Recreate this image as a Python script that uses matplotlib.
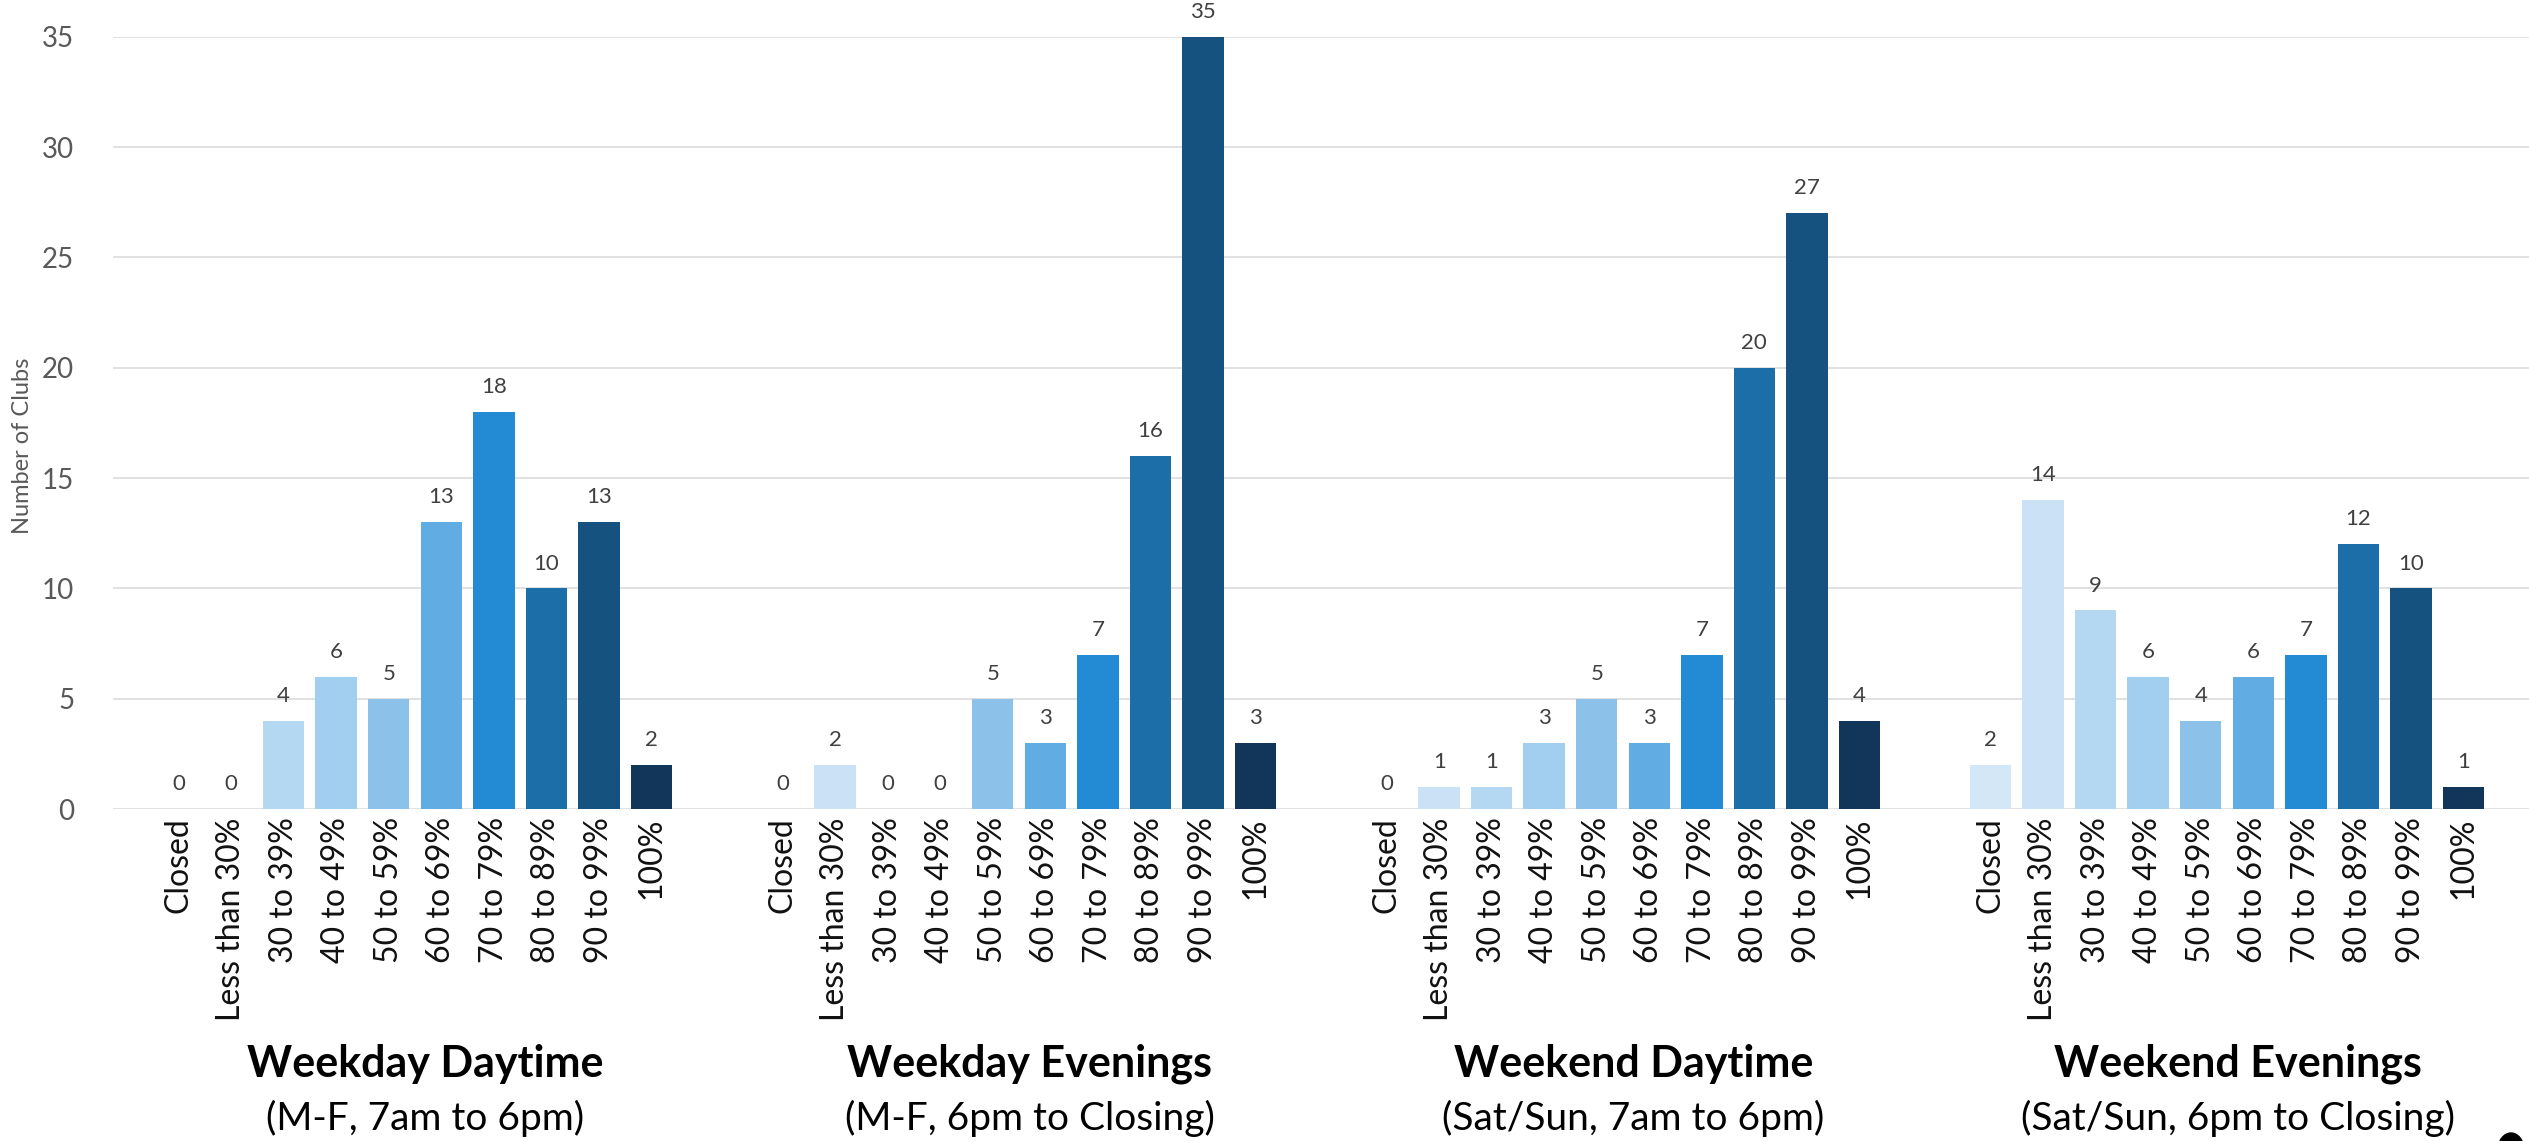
import matplotlib.pyplot as plt
from matplotlib.patches import Ellipse
from matplotlib.transforms import blended_transform_factory

plt.rcParams['font.family'] = ['Lato', 'DejaVu Sans']

# occupancy bands (same for every time slot)
categories = ["Closed", "Less than 30%", "30 to 39%", "40 to 49%", "50 to 59%",
              "60 to 69%", "70 to 79%", "80 to 89%", "90 to 99%", "100%"]

weekday_day = [0, 0, 4, 6, 5, 13, 18, 10, 13, 2]
weekday_eve = [0, 2, 0, 0, 5, 3, 7, 16, 35, 3]
weekend_day = [0, 1, 1, 3, 5, 3, 7, 20, 27, 4]
weekend_eve = [2, 14, 9, 6, 4, 6, 7, 12, 10, 1]

group_titles = ["Weekday Daytime", "Weekday Evenings", "Weekend Daytime", "Weekend Evenings"]
group_subtitles = ["(M-F, 7am to 6pm)", "(M-F, 6pm to Closing)",
                   "(Sat/Sun, 7am to 6pm)", "(Sat/Sun, 6pm to Closing)"]

bar_colors = ["#d3e7f6", "#cbe1f5", "#b4d8f2", "#a2cff0", "#8cc2ea",
              "#61ace3", "#238bd3", "#1c6ea8", "#16527f", "#12365a"]

W, H = 2529, 1141
fig = plt.figure(figsize=(W / 100, H / 100), dpi=100)
ax = fig.add_axes([113 / W, 1 - 809 / H, 1 - 113 / W, (809 - 36.7) / H])

series = [weekday_day, weekday_eve, weekend_day, weekend_eve]
group_step = 11.5
xs_all, labels_all = [], []
for g, vals in enumerate(series):
    xs = [g * group_step + i for i in range(len(categories))]
    ax.bar(xs, vals, width=0.79, color=bar_colors, zorder=2)
    for x, v in zip(xs, vals):
        ax.annotate(str(v), (x, v), xytext=(0, 13.5), textcoords="offset points",
                    ha="center", va="baseline", fontsize=16, color="#404040")
    xs_all += xs
    labels_all += categories

ax.set_xlim(-1.25, 3 * group_step + 9 + 1.25)
ax.set_ylim(0, 35)
ax.set_yticks(range(0, 36, 5))
ax.set_xticks(xs_all)
ax.set_xticklabels(labels_all, rotation=90, fontsize=23, color="#111111")
ax.tick_params(axis="x", length=0, pad=6)
ax.tick_params(axis="y", length=0, pad=28, labelsize=20, labelcolor="#595959")
ax.grid(axis="y", color="#d9d9d9", linewidth=1.1, zorder=0)
ax.set_axisbelow(True)
for s in ax.spines.values():
    s.set_visible(False)

fig.text(23 / W, 1 - 446 / H, "Number of Clubs", rotation=90, ha="center", va="center",
         fontsize=17, color="#595959")

trans = blended_transform_factory(ax.transData, fig.transFigure)
for g, (t, st) in enumerate(zip(group_titles, group_subtitles)):
    cx = g * group_step + 4.5 + 0.2
    ax.text(cx, 1 - 1064 / H, t, transform=trans, ha="center", va="center",
            fontsize=31, fontweight="bold", color="black")
    ax.text(cx, 1 - 1118 / H, st, transform=trans, ha="center", va="center",
            fontsize=28, color="black")

# cut-off mark in the bottom-right corner of the source image
fig.patches.append(Ellipse((2511 / W, (H - 1150) / H), 26 / W, 34 / H,
                           transform=fig.transFigure, color="black"))

fig.savefig("out.png", dpi=100)
